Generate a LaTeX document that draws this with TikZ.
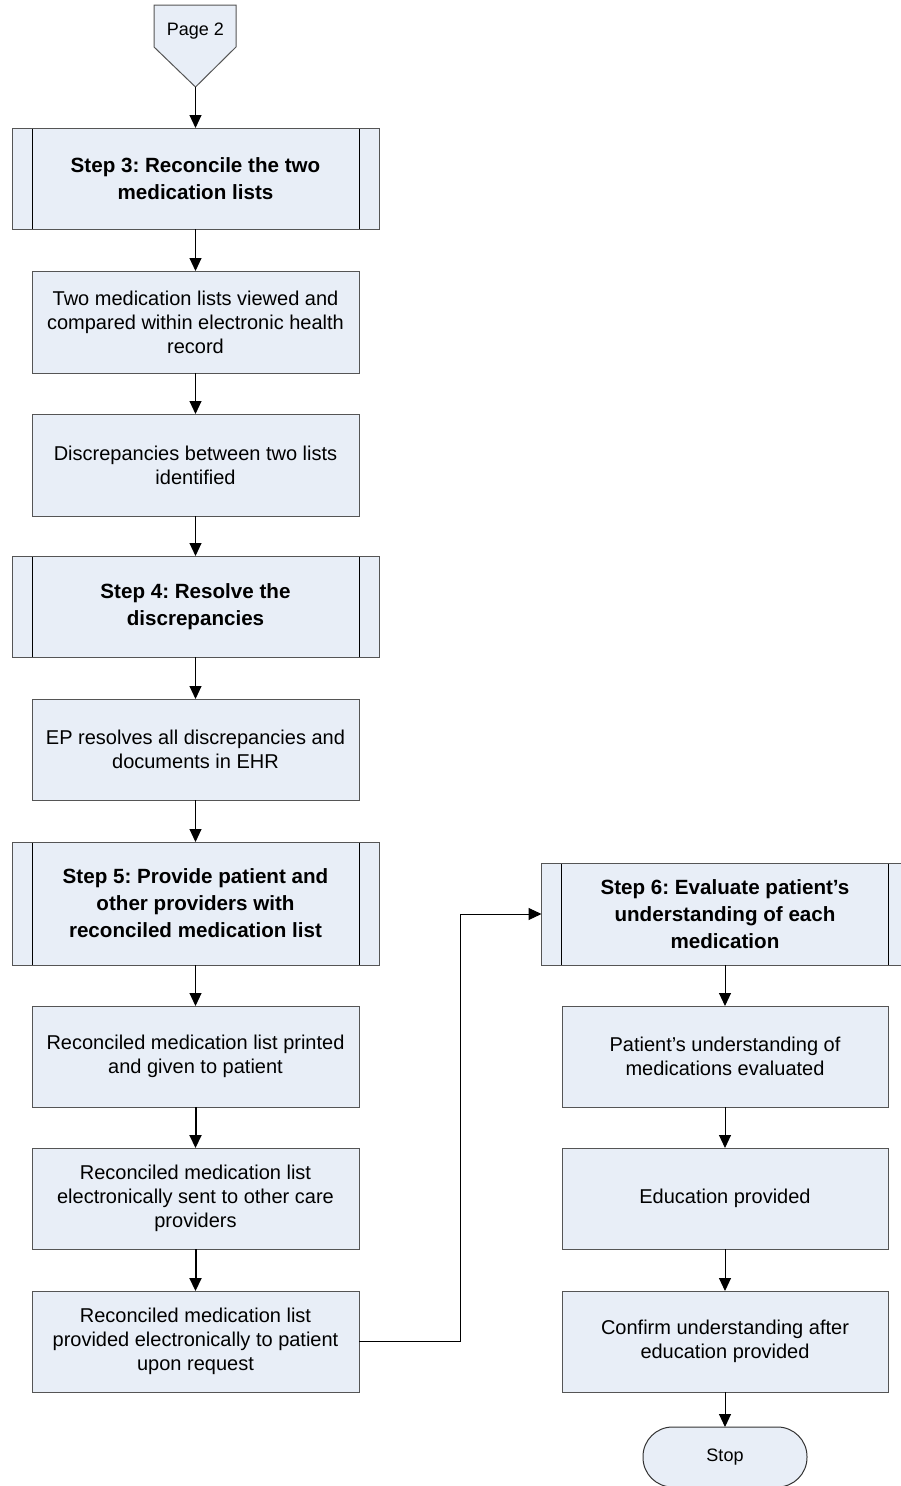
\documentclass[tikz,border=0pt]{standalone}
\usepackage{fontspec}
\setmainfont{Liberation Sans}
\usetikzlibrary{arrows.meta}
\frenchspacing

\definecolor{boxfill}{RGB}{232,238,247}
\definecolor{boxline}{RGB}{85,85,85}

\tikzset{
  every node/.style={inner sep=0pt, outer sep=0pt},
  plainbox/.style={draw=boxline, line width=1pt, fill=boxfill, rectangle,
    minimum width=327pt, minimum height=101pt, align=center,
    font=\fontsize{20}{24}\selectfont},
  rightbox/.style={plainbox, minimum width=326pt},
  stepbox/.style={draw=boxline, line width=1pt, fill=boxfill, rectangle,
    minimum width=367pt, minimum height=101pt, align=center,
    font=\fontsize{20.6}{27}\selectfont\bfseries,
    path picture={
      \draw[black, line width=1pt]
        ([xshift=20pt]path picture bounding box.north west) --
        ([xshift=20pt]path picture bounding box.south west)
        ([xshift=-20pt]path picture bounding box.north east) --
        ([xshift=-20pt]path picture bounding box.south east);
    }},
  terminal/.style={draw=black!80, line width=1pt, fill=boxfill,
    rounded corners=29.5pt, minimum width=164pt, minimum height=60pt,
    font=\fontsize{18}{22}\selectfont},
  arr/.style={draw=black, line width=1pt, -{Triangle[length=13pt,width=12pt]}},
  thickarr/.style={arr, line width=2pt},
}

\begin{document}
\begin{tikzpicture}[x=1pt, y=1pt]
\useasboundingbox (0,0) rectangle (901,-1486);
\clip (0,0) rectangle (901,-1486);

% off-page reference at the top
\draw[draw=boxline, line width=1pt, fill=boxfill]
  (154,-5) -- (236,-5) -- (236,-47) -- (195.5,-87) -- (154,-47) -- cycle;
\node[font=\fontsize{18}{22}\selectfont] (pg) at (195.5,-31) {Page 2};
\coordinate (pgtip) at (195.5,-87);

% left column
\node[stepbox] (s3) at (195.5,-178.5) {Step 3: Reconcile the two\\medication lists};
\node[plainbox, minimum height=102pt] (view) at (195.5,-322)
  {Two medication lists viewed and\\compared within electronic health\\record};
\node[plainbox, minimum height=102pt] (disc) at (195.5,-465)
  {Discrepancies between two lists\\identified};
\node[stepbox] (s4) at (195.5,-606.5) {Step 4: Resolve the\\discrepancies};
\node[plainbox] (ep) at (195.5,-749.5)
  {EP resolves all discrepancies and\\documents in EHR};
\node[stepbox, minimum height=123pt] (s5) at (195.5,-903.5)
  {Step 5: Provide patient and\\other providers with\\reconciled medication list};
\node[plainbox] (print) at (195.5,-1056.5)
  {Reconciled medication list printed\\and given to patient};
\node[plainbox] (sent) at (195.5,-1198.5)
  {Reconciled medication list\\electronically sent to other care\\providers};
\node[plainbox] (req) at (195.5,-1341.5)
  {Reconciled medication list\\provided electronically to patient\\upon request};

% right column
\node[stepbox, minimum height=102pt] (s6) at (725,-914)
  {Step 6: Evaluate patient’s\\understanding of each\\medication};
\node[rightbox] (und) at (725,-1056.5)
  {Patient’s understanding of\\medications evaluated};
\node[rightbox] (edu) at (725,-1198.5) {Education provided};
\node[rightbox] (conf) at (725,-1341.5)
  {Confirm understanding after\\education provided};
\node[terminal] (stop) at (725,-1457) {Stop};

% connectors
\draw[arr] (pgtip) -- (s3);
\draw[arr] (s3) -- (view);
\draw[arr] (view) -- (disc);
\draw[arr] (disc) -- (s4);
\draw[arr] (s4) -- (ep);
\draw[arr] (ep) -- (s5);
\draw[arr] (s5) -- (print);
\draw[thickarr] (print) -- (sent);
\draw[thickarr] (sent) -- (req);
\coordinate (bend) at (460,-914);
\draw[arr] (req.east) -| (bend) -- (s6.west);
\draw[arr] (s6) -- (und);
\draw[arr] (und) -- (edu);
\draw[arr] (edu) -- (conf);
\draw[arr] (conf) -- (stop);
\end{tikzpicture}
\end{document}
